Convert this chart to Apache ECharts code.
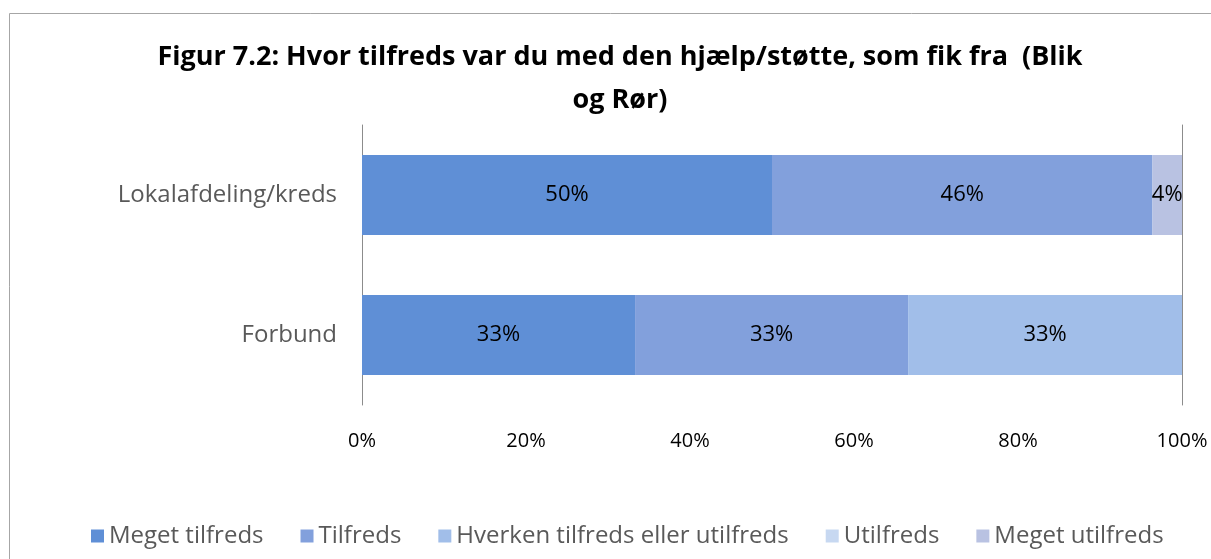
<!DOCTYPE html>
<html><head><meta charset="utf-8">
<script src="https://cdn.jsdelivr.net/npm/echarts@6/dist/echarts.min.js"></script>
<style>html,body{margin:0;padding:0;background:#fff}#c{width:1211px;height:559px}</style>
</head><body><div id="c"></div>
<script>
const categories = ['Lokalafdeling/kreds', 'Forbund'];
const seriesNames = ['Meget tilfreds', 'Tilfreds', 'Hverken tilfreds eller utilfreds', 'Utilfreds', 'Meget utilfreds'];
const megetTilfreds = [50, 33.3];
const tilfreds = [46.4, 33.3];
const hverken = [0, 33.4];
const utilfreds = [0, 0];
const megetUtilfreds = [3.6, 0];
const xTicks = ['0%', '20%', '40%', '60%', '80%', '100%'];
const colors = ['#5F8FD6', '#82A0DC', '#A1BEE9', '#C7D8F1', '#B9C2E2'];
const values = [megetTilfreds, tilfreds, hverken, utilfreds, megetUtilfreds];

const font = '"Open Sans", "Noto Sans", sans-serif';
const chart = echarts.init(document.getElementById('c'));
chart.setOption({
  animation: false,
  color: colors,
  graphic: [{type: 'rect', shape: {x: 9.5, y: 13.5, width: 1400, height: 700}, style: {fill: 'none', stroke: '#a6a6a6', lineWidth: 1}, silent: true, z: -1}],
  title: {
    text: 'Figur 7.2: Hvor tilfreds var du med den hjælp/støtte, som fik fra  (Blik\nog Rør)',
    left: 615, textAlign: 'center', top: 31,
    textStyle: {fontFamily: font, fontWeight: 'bold', fontSize: 27, color: '#000', lineHeight: 43}
  },
  legend: {
    bottom: 6, left: 86, itemWidth: 13, itemHeight: 13, itemGap: 37,
    icon: 'rect',
    textStyle: {fontFamily: font, fontSize: 24, color: '#595959', padding: [0, 0, 0, 0]},
    data: seriesNames
  },
  grid: {left: 362, right: 29, top: 125, bottom: 154, containLabel: false},
  xAxis: {
    type: 'value', min: 0, max: 100, interval: 20,
    axisLine: {show: false}, axisTick: {show: false}, splitLine: {show: false},
    axisLabel: {fontFamily: font, fontSize: 20, color: '#000', margin: 26,
      formatter: v => xTicks[Math.round(v / 20)]}
  },
  yAxis: [{
    type: 'category', data: categories, inverse: true,
    axisLine: {show: true, lineStyle: {color: '#8c8c8c'}}, axisTick: {show: false},
    axisLabel: {fontFamily: font, fontSize: 24, color: '#595959', margin: 25}
  }, {
    type: 'category', data: categories, inverse: true, position: 'right',
    axisLine: {show: true, lineStyle: {color: '#8c8c8c'}}, axisTick: {show: false},
    axisLabel: {show: false}
  }],
  series: seriesNames.map((n, i) => ({
    name: n, type: 'bar', stack: 'total', barWidth: 80,
    data: values[i],
    label: {show: true, position: 'inside', fontFamily: font, fontSize: 22, color: '#000',
      formatter: p => p.value > 0 ? Math.round(p.value) + '%' : ''}
  }))
});
</script></body></html>
